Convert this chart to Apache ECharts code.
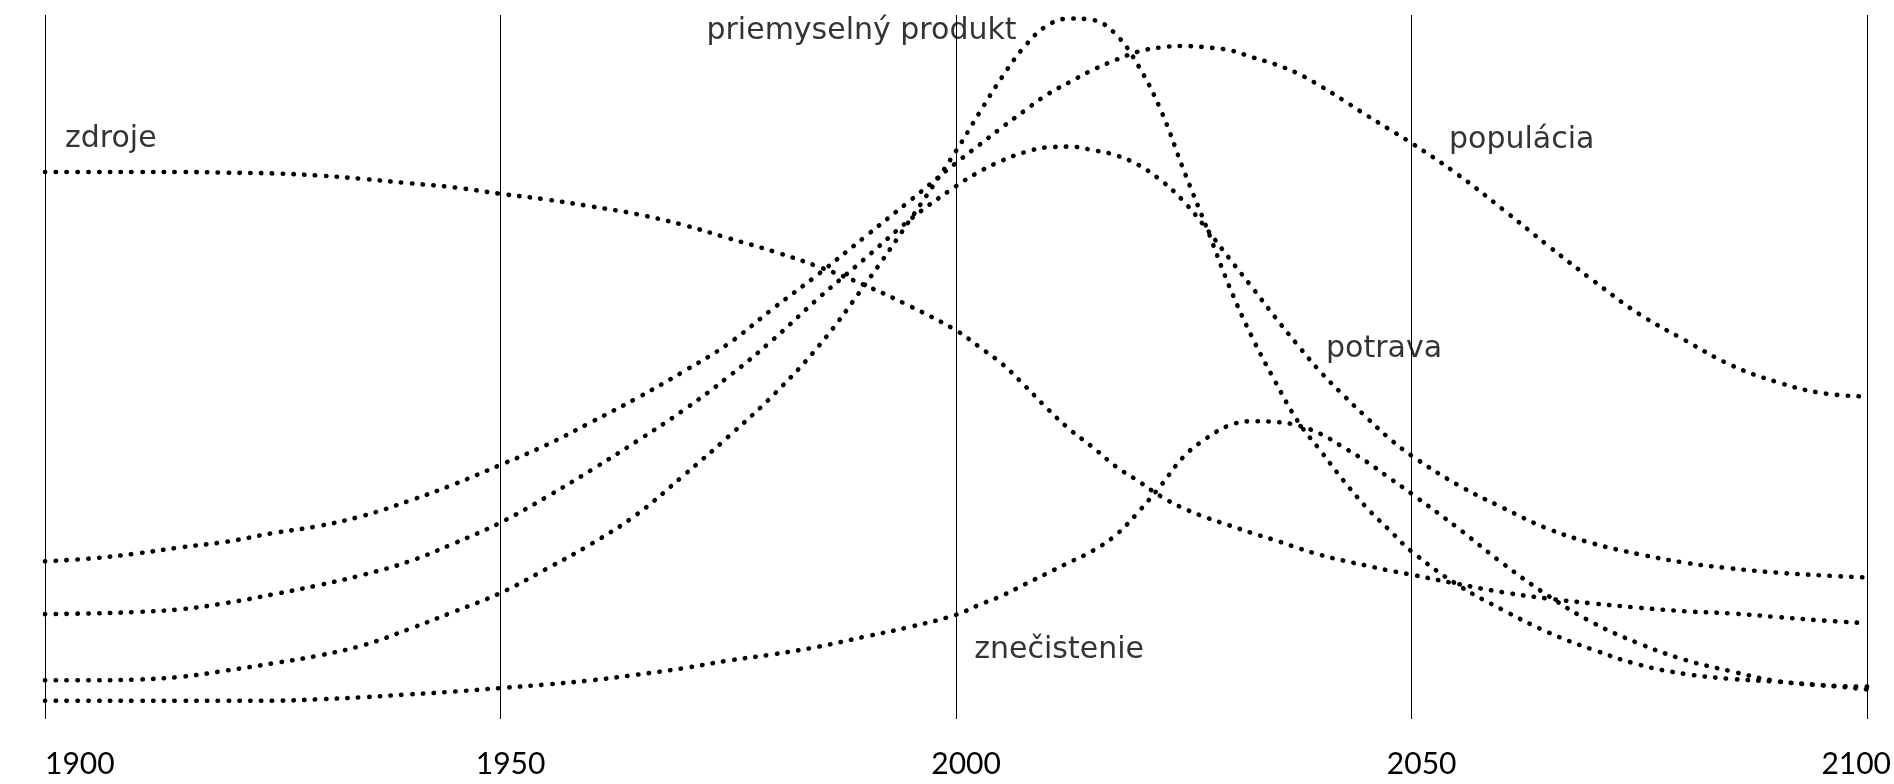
<!DOCTYPE html>
<html>
<head>
<meta charset="utf-8">
<script src="https://cdn.jsdelivr.net/npm/echarts@6/dist/echarts.min.js"></script>
<style>
  html, body { margin: 0; padding: 0; background: #ffffff; }
  #chart { width: 1894px; height: 784px; }
</style>
</head>
<body>
<div id="chart"></div>
<script>
// Years sampled (x axis)
const years = [1900,1905,1910,1915,1920,1925,1930,1935,1940,1945,1950,1955,1960,1965,1970,1975,1980,1985,1990,1995,
  2000,2002.5,2005,2007.5,2010,2012.5,2015,2017.5,2020,2022.5,2025,2027.5,2030,2032.5,2035,2037.5,2040,2042.5,2045,2047.5,
  2050,2055,2060,2065,2070,2075,2080,2085,2090,2095,2100];

// Relative index values (0 = bottom of chart, 100 = top)
const zdroje = [77.7,77.7,77.7,77.7,77.6,77.5,77.2,76.7,76.1,75.5,74.6,73.8,72.8,71.7,70.2,68.3,66.4,64.2,61.6,58.6,
  55.2,52.9,50.5,47.4,44.1,41.1,38.6,35.9,33.8,31.6,29.9,28.6,27.5,26.4,25.4,24.3,23.3,22.5,21.8,21.1,
  20.5,19.2,18.0,17.1,16.4,15.8,15.3,15.0,14.5,14.0,13.6];

const populacia = [22.4,22.8,23.5,24.4,25.2,26.4,27.4,28.9,31.0,33.4,36.1,38.9,42.2,45.6,49.3,53.3,58.4,63.3,68.5,73.7,
  79.0,81.5,84.0,86.4,88.7,90.5,92.2,93.6,94.8,95.4,95.6,95.4,95.0,94.0,93.0,91.7,89.9,87.9,85.8,83.8,
  81.8,77.4,72.4,67.2,62.2,57.5,53.8,50.3,47.9,46.3,45.8];

const potrava = [14.9,15.0,15.2,15.6,16.5,17.7,19.0,20.5,22.4,25.0,27.9,31.5,35.4,39.5,43.8,48.6,54.0,59.9,65.4,71.0,
  75.7,77.7,79.3,80.5,81.2,81.3,80.8,80.1,78.7,76.5,73.5,69.6,65.4,61.3,57.1,53.1,49.3,46.0,42.9,39.9,
  37.4,33.3,30.0,27.0,24.9,23.4,22.2,21.4,20.8,20.4,20.1];

const priemyselnyProdukt = [5.5,5.5,5.6,6.0,6.9,7.9,9.0,10.5,12.8,15.3,17.9,21.3,24.9,29.1,34.5,40.1,46.1,53.1,61.7,71.0,
  80.7,86.0,91.1,95.5,98.5,99.5,99.3,97.3,92.8,86.4,77.9,69.8,61.4,54.2,48.0,42.3,38.1,33.9,30.1,26.9,
  23.8,19.1,15.5,12.3,9.8,7.7,6.4,5.7,5.3,4.8,4.2];

const znecistenie = [2.6,2.6,2.6,2.6,2.6,2.6,2.8,3.1,3.5,3.9,4.4,4.9,5.5,6.3,7.2,8.3,9.2,10.3,11.7,13.1,
  14.8,16.2,17.5,19.1,20.7,22.3,23.9,26.1,29.4,33.2,37.3,39.9,41.7,42.3,42.2,41.7,40.5,38.6,36.6,34.3,
  32.0,27.2,22.1,17.5,13.6,10.7,8.4,6.8,5.4,4.8,4.6];

// Axis ticks
const tickStart = 1900, tickEnd = 2100, tickStep = 50;

// Curve labels: [text, year, value]
const labelAnchors = [
  ['zdroje', 1902.2, 82.35],
  ['priemyselný produkt', 1972.6, 97.7],
  ['populácia', 2054.1, 82.25],
  ['potrava', 2040.6, 52.55],
  ['znečistenie', 2002.0, 9.8]
];

const seriesDefs = [
  ['zdroje', zdroje],
  ['populácia', populacia],
  ['potrava', potrava],
  ['priemyselný produkt', priemyselnyProdukt],
  ['znečistenie', znecistenie]
];

const dotStyle = { color: '#000', width: 4.6, type: [0.4, 10.4], cap: 'round', join: 'round' };

const chart = echarts.init(document.getElementById('chart'), null, { renderer: 'canvas' });

const tickFont = { fontFamily: 'Lato, "DejaVu Sans", sans-serif', fontSize: 30, fontWeight: 400, color: '#000' };
const textFont = { fontFamily: '"DejaVu Sans", sans-serif', fontSize: 30, fontWeight: 400, color: '#000' };

const series = seriesDefs.map(function (d) {
  return {
    name: d[0],
    type: 'line',
    data: years.map(function (y, i) { return [y, d[1][i]]; }),
    smooth: 0.4,
    showSymbol: false,
    symbol: 'none',
    silent: true,
    lineStyle: dotStyle
  };
});

series.push({
  name: 'labels',
  type: 'scatter',
  silent: true,
  symbolSize: 0,
  data: labelAnchors.map(function (a) { return { name: a[0], value: [a[1], a[2]] }; }),
  label: Object.assign({
    show: true,
    position: [0, 0],
    align: 'left',
    verticalAlign: 'middle',
    formatter: function (p) { return p.name; }
  }, textFont),
  z: 10
});

chart.setOption({
  backgroundColor: '#ffffff',
  animation: false,
  grid: { left: 45, right: 26, top: 15, bottom: 65, containLabel: false },
  xAxis: {
    type: 'value',
    min: tickStart,
    max: tickEnd,
    interval: tickStep,
    axisLine: { show: false },
    axisTick: { show: false },
    splitLine: { show: true, lineStyle: { color: '#000', width: 1 } },
    axisLabel: {
      show: true,
      margin: 30,
      alignMinLabel: 'left',
      formatter: function (v) {
        if (v === tickStart) return '{s|' + v + '}';
        if (v === tickEnd) return '{e|' + v + '}';
        return '{m|' + v + '}';
      },
      rich: {
        s: Object.assign({}, tickFont),
        m: Object.assign({ padding: [0, 0, 0, 20] }, tickFont),
        e: Object.assign({ padding: [0, 22, 0, 0] }, tickFont)
      }
    }
  },
  yAxis: {
    type: 'value',
    min: 0,
    max: 100,
    show: false,
    splitLine: { show: false }
  },
  series: series
});
</script>
</body>
</html>
